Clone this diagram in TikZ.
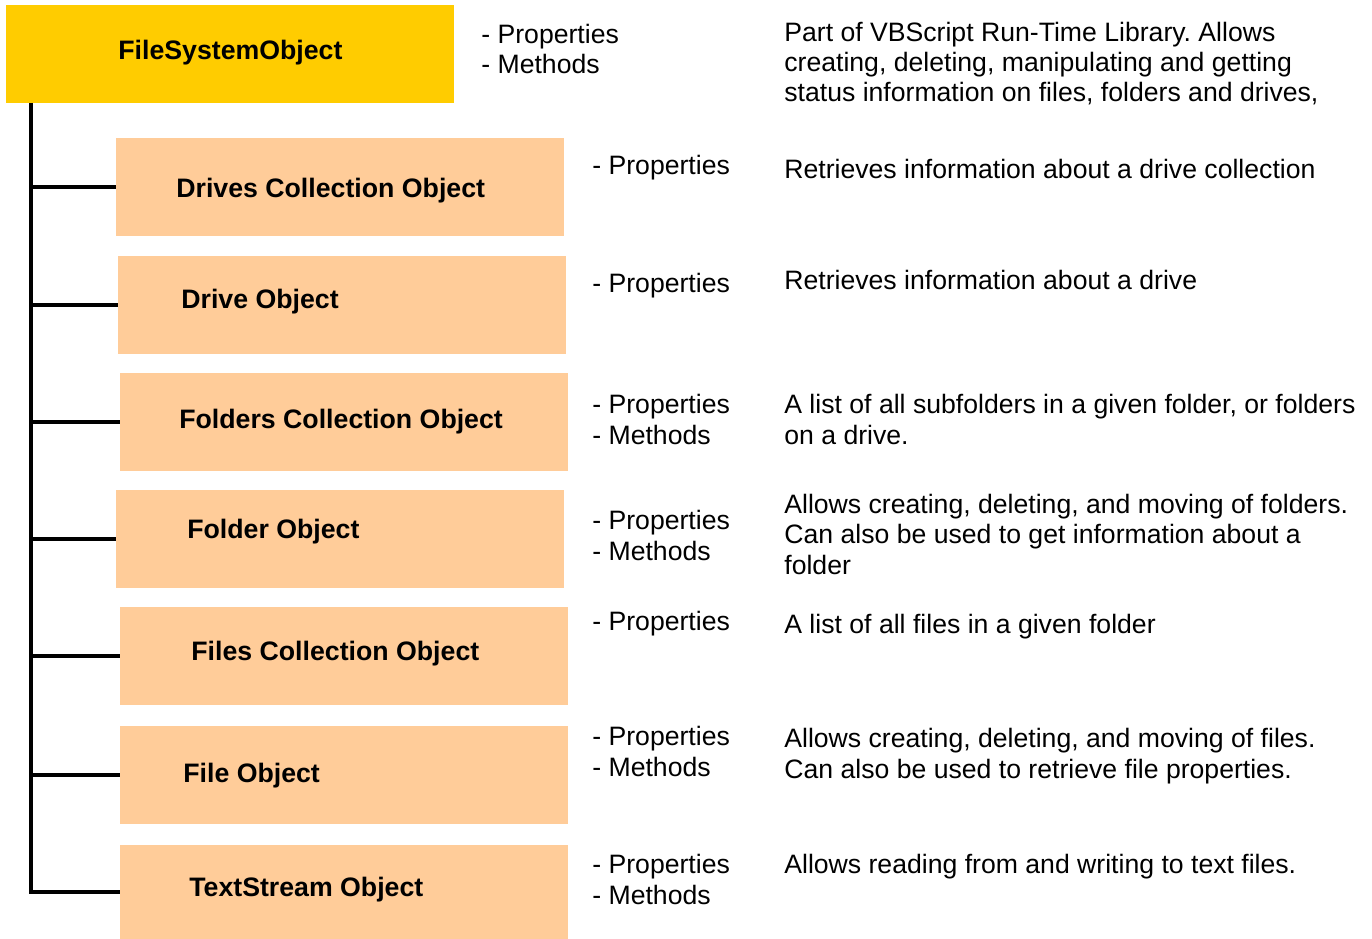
\documentclass[tikz,border=0pt]{standalone}
\usepackage{fontspec}
\setmainfont{Liberation Sans}
\usetikzlibrary{positioning}
\frenchspacing
\definecolor{fsogold}{HTML}{FFCC00}
\definecolor{objpeach}{HTML}{FFCC99}
\tikzset{
	rootbox/.style={fill=fsogold, anchor=north west, inner sep=0, minimum width=8.96cm, minimum height=1.96cm},
	objbox/.style={fill=objpeach, anchor=north west, inner sep=0, minimum width=8.96cm, minimum height=1.96cm},
	boxtitle/.style={anchor=base west, inner sep=0, font=\bfseries\fontsize{15.2pt}{17.3pt}\selectfont},
	propstext/.style={anchor=base west, inner sep=0, align=left, font=\fontsize{15.15pt}{17.3pt}\selectfont},
	desctext/.style={propstext},
	branch/.style={line width=2.3pt}
}

\begin{document}
\begin{tikzpicture}[x=0.02cm, y=-0.02cm]
	\useasboundingbox (0,0) rectangle (1372,939);
	
	% Root object
	\node [rootbox] (fso) at (6,5) {};
	\node [boxtitle] (fsoT) at (118,60) {FileSystemObject};
	\node [propstext] (fsoP) at (481,74) {- Properties\\- Methods};
	\node [desctext] (fsoD) at (784,102) {Part of VBScript Run-Time Library. Allows\\creating, deleting, manipulating and getting\\status information on files, folders and drives,};
	
	% Drives collection and drive
	\node [objbox] (drives) at (116,138) {};
	\node [boxtitle] (drivesT) at (176,198) {Drives Collection Object};
	\node [propstext] (drivesP) at (592,175) {- Properties};
	\node [desctext] (drivesD) at (784,179) {Retrieves information about a drive collection};
	
	\node [objbox] (drive) at (118,256) {};
	\node [boxtitle] (driveT) at (181,308) {Drive Object};
	\node [propstext] (driveP) at (592,292) {- Properties};
	\node [desctext] (driveD) at (784,289) {Retrieves information about a drive};
	
	% Folders collection and folder
	\node [objbox] (folders) at (120,373) {};
	\node [boxtitle] (foldersT) at (179,428) {Folders Collection Object};
	\node [propstext] (foldersP) at (592,444) {- Properties\\- Methods};
	\node [desctext] (foldersD) at (784,444) {A list of all subfolders in a given folder, or folders\\on a drive.};
	
	\node [objbox] (folder) at (116,490) {};
	\node [boxtitle] (folderT) at (187,538) {Folder Object};
	\node [propstext] (folderP) at (592,560) {- Properties\\- Methods};
	\node [desctext] (folderD) at (784,574) {Allows creating, deleting, and moving of folders.\\Can also be used to get information about a\\folder};
	
	% Files collection and file
	\node [objbox] (files) at (120,607) {};
	\node [boxtitle] (filesT) at (191,660) {Files Collection Object};
	\node [propstext] (filesP) at (592,630) {- Properties};
	\node [desctext] (filesD) at (784,633) {A list of all files in a given folder};
	
	\node [objbox] (file) at (120,726) {};
	\node [boxtitle] (fileT) at (183,782) {File Object};
	\node [propstext] (fileP) at (592,776) {- Properties\\- Methods};
	\node [desctext] (fileD) at (784,778) {Allows creating, deleting, and moving of files.\\Can also be used to retrieve file properties.};
	
	% Text stream
	\node [objbox, minimum height=1.88cm] (stream) at (120,845) {};
	\node [boxtitle] (streamT) at (189,896) {TextStream Object};
	\node [propstext] (streamP) at (592,904) {- Properties\\- Methods};
	\node [desctext] (streamD) at (784,873) {Allows reading from and writing to text files.};
	
	% Connections
	\coordinate (trunk) at (31,103);
	\draw [branch] (trunk) |- (stream.west);
	\draw [branch] (trunk |- drives.west) -- (drives.west);
	\draw [branch] (trunk |- drive.west) -- (drive.west);
	\draw [branch] (trunk |- folders.west) -- (folders.west);
	\draw [branch] (trunk |- folder.west) -- (folder.west);
	\draw [branch] (trunk |- files.west) -- (files.west);
	\draw [branch] (trunk |- file.west) -- (file.west);
\end{tikzpicture}
\end{document}
